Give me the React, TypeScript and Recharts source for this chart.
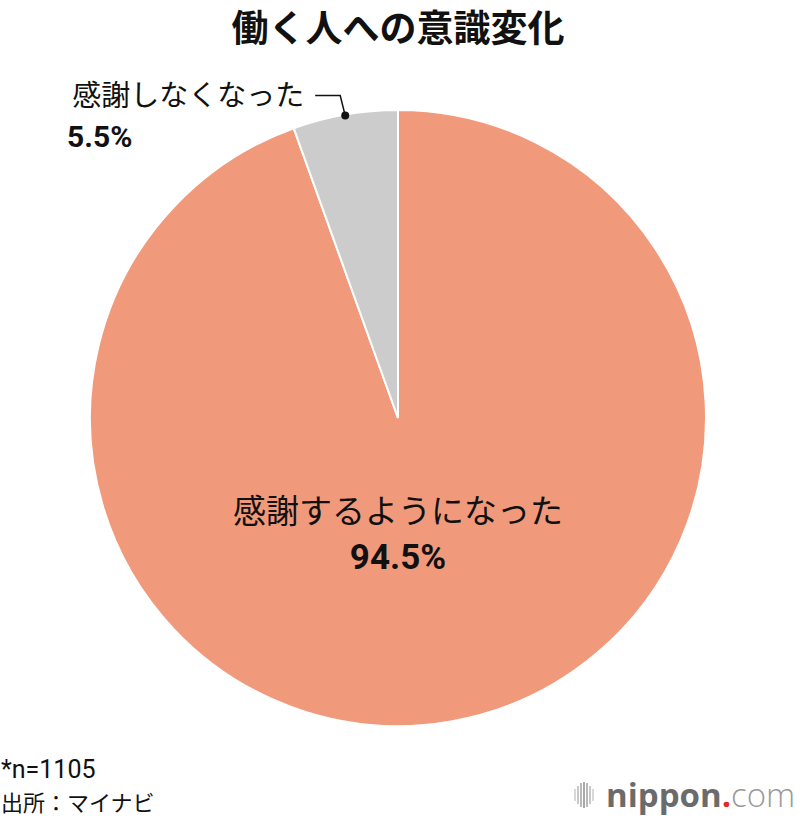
import { PieChart, Pie, Cell } from "recharts";

const categories = ["感謝するようになった", "感謝しなくなった"];
const shares = [94.5, 5.5];
const colors = ["#F19A7B", "#CCCCCC"];

const title = "働く人への意識変化";
const notes = ["*n=1105", "出所：マイナビ"];

const data = categories.map((name, i) => ({ name, value: shares[i] }));

const JP = '"Noto Sans CJK JP", "Noto Sans", sans-serif';
const NUM = '"Liberation Sans Narrow", Roboto, "Liberation Sans", sans-serif';

const RAD = Math.PI / 180;

function renderLabel(props: any) {
  const { cx, cy, midAngle, outerRadius, index, name, value } = props;
  if (index === 0) {
    return (
      <g>
        <text x={cx} y={cy + 105} textAnchor="middle" fontFamily={JP} fontSize={33} fill="#111">
          {name}
        </text>
        <text x={cx} y={cy + 151} textAnchor="middle" fontFamily={NUM} fontWeight="bold" fontSize={35} fill="#111">
          {value}%
        </text>
      </g>
    );
  }
  // small slice: dot on the edge, leader up then left
  const px = cx + (outerRadius - 1) * Math.cos(-midAngle * RAD);
  const py = cy + (outerRadius - 1) * Math.sin(-midAngle * RAD);
  const topY = py - 20;
  return (
    <g>
      <circle cx={px} cy={py} r={4} fill="#111" />
      <polyline
        points={`${px},${py} ${px - 5},${topY} ${px - 30},${topY}`}
        fill="none"
        stroke="#111"
        strokeWidth={1.5}
      />
      <text x={px - 41} y={topY + 10} textAnchor="end" fontFamily={JP} fontSize={29} fill="#111">
        {name}
      </text>
      <text x={67} y={topY + 51} textAnchor="start" fontFamily={NUM} fontWeight="bold" fontSize={30} fill="#111">
        {value}%
      </text>
    </g>
  );
}

const logoBars = [
  { x: 574, h: 12, c: "#d8d8d8" },
  { x: 577, h: 18, c: "#c8c8c8" },
  { x: 580, h: 24, c: "#b8b8b8" },
  { x: 583, h: 26, c: "#a8a8a8" },
  { x: 586, h: 24, c: "#b8b8b8" },
  { x: 589, h: 18, c: "#c8c8c8" },
  { x: 592, h: 12, c: "#d8d8d8" },
];

export default function App() {
  return (
    <div style={{ position: "absolute", left: 0, top: 0, width: 800, height: 820, background: "#fff" }}>
      <PieChart width={800} height={820} margin={{ top: 0, right: 0, bottom: 0, left: 0 }}>
        <Pie
          data={data}
          dataKey="value"
          nameKey="name"
          cx={398}
          cy={418}
          outerRadius={308}
          startAngle={90}
          endAngle={-270}
          stroke="#fff"
          strokeWidth={2}
          label={renderLabel}
          labelLine={false}
          isAnimationActive={false}
        >
          {data.map((d, i) => (
            <Cell key={d.name} fill={colors[i]} />
          ))}
        </Pie>
      </PieChart>
      <svg
        width={800}
        height={820}
        style={{ position: "absolute", left: 0, top: 0, pointerEvents: "none" }}
      >
        <text x={398} y={42} textAnchor="middle" fontFamily={JP} fontWeight="bold" fontSize={37} fill="#111">
          {title}
        </text>
        <text x={1} y={778} fontFamily='Roboto, "Noto Sans", sans-serif' fontSize={25} fill="#111">
          {notes[0]}
        </text>
        <text x={1} y={811} fontFamily={JP} fontSize={22} fill="#111">
          {notes[1]}
        </text>
        {logoBars.map((b) => (
          <rect key={b.x} x={b.x} y={795 - b.h / 2} width={2} height={b.h} fill={b.c} />
        ))}
        <text x={606} y={807} fontFamily='"Open Sans", sans-serif' fontSize={33}>
          <tspan fontWeight="bold" fill="#6b6b6b">nippon</tspan>
          <tspan fill="#e8262a" fontWeight="bold">.</tspan>
          <tspan fill="#9a9a9a" fontWeight="300">com</tspan>
        </text>
      </svg>
    </div>
  );
}
